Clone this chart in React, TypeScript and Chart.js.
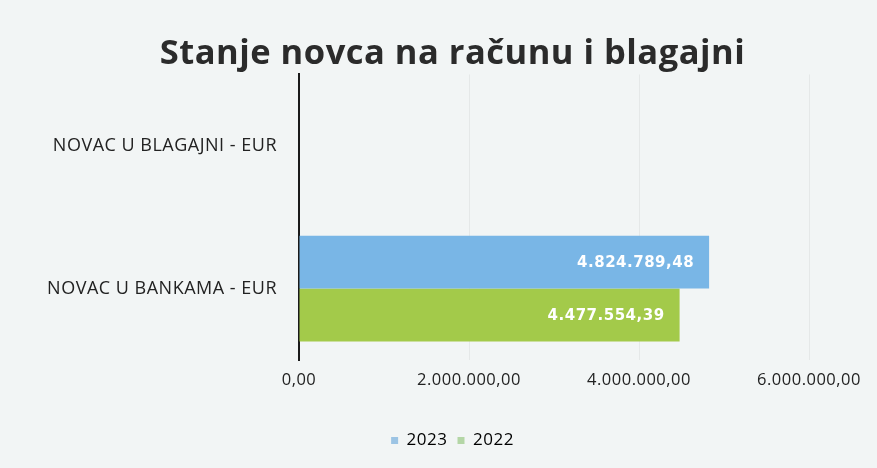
import React, { useEffect, useRef } from "react";
import { Chart, registerables } from "chart.js";

Chart.register(...registerables);

const categories = ["NOVAC U BLAGAJNI - EUR", "NOVAC U BANKAMA - EUR"];
const series2023 = [0, 4824789.48];
const series2022 = [0, 4477554.39];
const seriesNames = ["2023", "2022"];
const xTicks = [0, 2000000, 4000000, 6000000];

const fmt = (v: number) =>
  v.toLocaleString("de-DE", { minimumFractionDigits: 2, maximumFractionDigits: 2 });

const BLUE = "#79b6e6";
const GREEN = "#a3ca4a";

const setSpacing = (chart: any) => {
  try {
    (chart.ctx as any).letterSpacing = "0.5px";
  } catch (e) {}
};

const spacingPlugin = {
  id: "spacing",
  beforeUpdate: setSpacing,
  beforeLayout: setSpacing,
  beforeDraw: setSpacing,
};

const labelPlugin = {
  id: "barLabels",
  afterDatasetsDraw(chart: any) {
    const ctx = chart.ctx;
    ctx.save();
    ctx.fillStyle = "#ffffff";
    ctx.font = "bold 15px 'DejaVu Sans'";
    ctx.textAlign = "right";
    ctx.textBaseline = "middle";
    chart.data.datasets.forEach((ds: any, di: number) => {
      const meta = chart.getDatasetMeta(di);
      meta.data.forEach((el: any, i: number) => {
        const v = ds.data[i];
        if (!v) return;
        ctx.fillText(fmt(v), el.x - 15, el.y + 1);
      });
    });
    ctx.restore();
  },
};

const bgPlugin = {
  id: "bg",
  beforeDraw(chart: any) {
    const ctx = chart.ctx;
    ctx.save();
    ctx.fillStyle = "#f2f5f5";
    ctx.fillRect(0, 0, chart.width, chart.height);
    ctx.restore();
  },
};

export default function App() {
  const ref = useRef<HTMLCanvasElement>(null);
  useEffect(() => {
    document.body.style.margin = "0";
    const chart = new Chart(ref.current!, {
      type: "bar",
      data: {
        labels: categories,
        datasets: [
          { label: seriesNames[0], data: series2023, backgroundColor: BLUE },
          { label: seriesNames[1], data: series2022, backgroundColor: GREEN },
        ],
      },
      plugins: [spacingPlugin, bgPlugin, labelPlugin],
      options: {
        indexAxis: "y",
        animation: false,
        responsive: false,
        layout: { padding: { left: 28, right: 0, top: 0, bottom: 9 } },
        plugins: {
          title: {
            display: true,
            text: "Stanje novca na računu i blagajni",
            color: "#2b2b2b",
            font: { family: "'Open Sans'", size: 34.5, weight: "bold" },
            padding: { top: 33, bottom: 0 },
          },
          legend: {
            position: "bottom",
            labels: {
              color: "#333",
              font: { family: "'Open Sans'", size: 17 },
              boxWidth: 7,
              boxHeight: 7,
              padding: 10,
              generateLabels: () => [
                { text: seriesNames[0], fillStyle: "#9cc4e4", strokeStyle: "#9cc4e4", lineWidth: 0, datasetIndex: 0 },
                { text: seriesNames[1], fillStyle: "#b4d6a6", strokeStyle: "#b4d6a6", lineWidth: 0, datasetIndex: 1 },
              ] as any,
            },
          },
          tooltip: { enabled: false },
        },
        datasets: {
          bar: { categoryPercentage: 0.74, barPercentage: 1.0 },
        } as any,
        scales: {
          x: {
            min: 0,
            max: 6000000,
            afterBuildTicks: (s: any) => {
              s.ticks = xTicks.map((v) => ({ value: v }));
            },
            afterFit: (s: any) => {
              s.height = 62;
            },
            ticks: {
              color: "#222",
              font: { family: "'Open Sans'", size: 16.5 },
              padding: 10,
              callback: (v: any) => fmt(Number(v)),
            },
            grid: { color: "rgba(0,0,0,0.05)", drawTicks: false },
            border: { display: false },
          },
          y: {
            afterFit: (s: any) => {
              s.width = 271;
            },
            ticks: {
              color: "#222",
              font: { family: "'Open Sans'", size: 18 },
              padding: 22,
            },
            grid: { display: false, drawTicks: false },
            border: { display: true, color: "#1a1a1a", width: 2 },
          },
          yR: {
            type: "linear",
            position: "right",
            display: true,
            ticks: { display: false },
            grid: { display: false, drawTicks: false },
            border: { display: false },
            afterFit: (s: any) => {
              s.width = 68;
            },
          },
        },
      } as any,
    });
    return () => chart.destroy();
  }, []);
  return (
    <div style={{ width: 877, height: 468 }}>
      <canvas ref={ref} width={877} height={468} />
    </div>
  );
}
